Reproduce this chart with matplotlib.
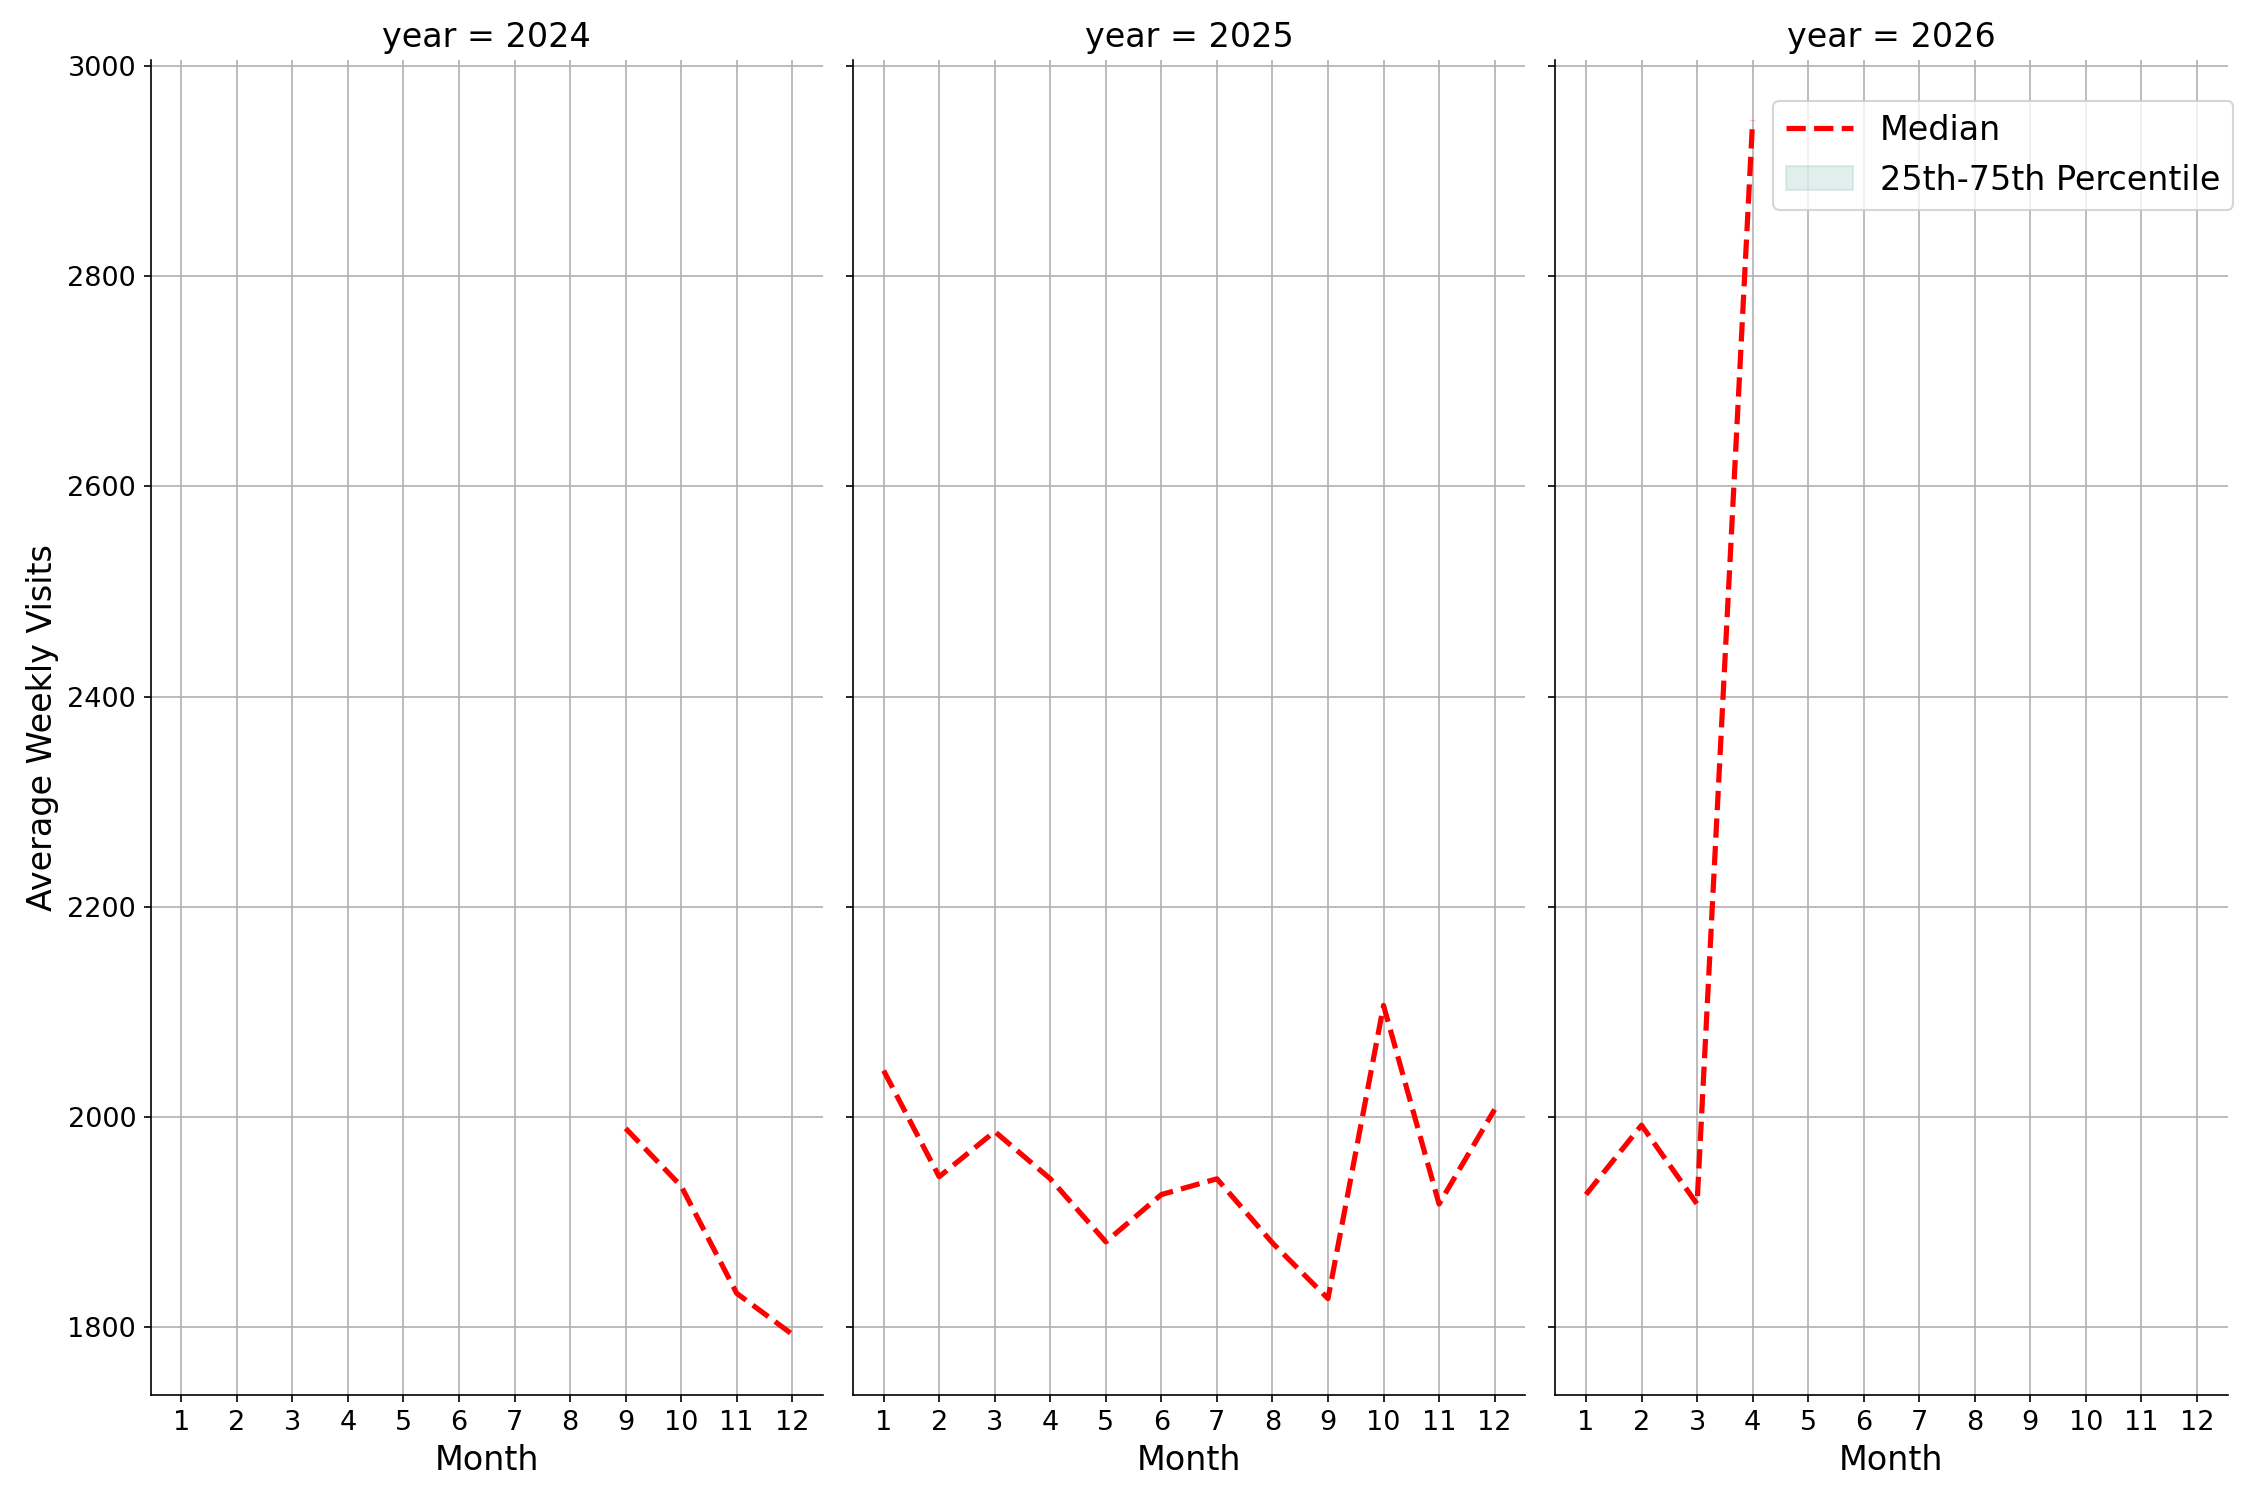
import matplotlib.pyplot as plt

# median weekly visits per month
years = [2024, 2025, 2026]
months_2024 = [9, 10, 11, 12]
median_2024 = [1989, 1934, 1832, 1793]
months_2025 = [1, 2, 3, 4, 5, 6, 7, 8, 9, 10, 11, 12]
median_2025 = [2044, 1943, 1986, 1941, 1881, 1926, 1941, 1880, 1827, 2106, 1917, 2007]
months_2026 = [1, 2, 3, 4]
median_2026 = [1926, 1992, 1917, 2948]

# the percentile band has no visible values in the picture
q25 = {2024: [], 2025: [], 2026: []}
q75 = {2024: [], 2025: [], 2026: []}
qmonths = {2024: [], 2025: [], 2026: []}

month_ticks = list(range(1, 13))

data = {2024: (months_2024, median_2024),
        2025: (months_2025, median_2025),
        2026: (months_2026, median_2026)}

fig, axes = plt.subplots(1, 3, figsize=(15, 10), dpi=150, sharex=True, sharey=True)

for ax, yr in zip(axes, years):
    m, med = data[yr]
    ax.plot(m, med, color='red', linestyle='--', linewidth=2.5, label='Median')
    ax.fill_between(qmonths[yr], q25[yr], q75[yr], color='#69b3a2', alpha=0.2,
                    label='25th-75th Percentile')
    ax.set_title(f'year = {yr}', fontsize=16)
    ax.set_xlabel('Month', fontsize=16)
    ax.set_xticks(month_ticks)
    ax.tick_params(labelsize=13)
    ax.grid(True)
    ax.spines['top'].set_visible(False)
    ax.spines['right'].set_visible(False)

# keep x range like the full year even on partial panels
axes[0].set_xlim(0.45, 12.55)
axes[0].set_ylabel('Average Weekly Visits', fontsize=16)

plt.subplots_adjust(left=0.067, right=0.990, top=0.96, bottom=0.070, wspace=0.045)

axes[2].legend(loc='upper right', fontsize=16, bbox_to_anchor=(1.0, 0.944),
               bbox_transform=fig.transFigure)

plt.savefig('out.png', dpi=150)
